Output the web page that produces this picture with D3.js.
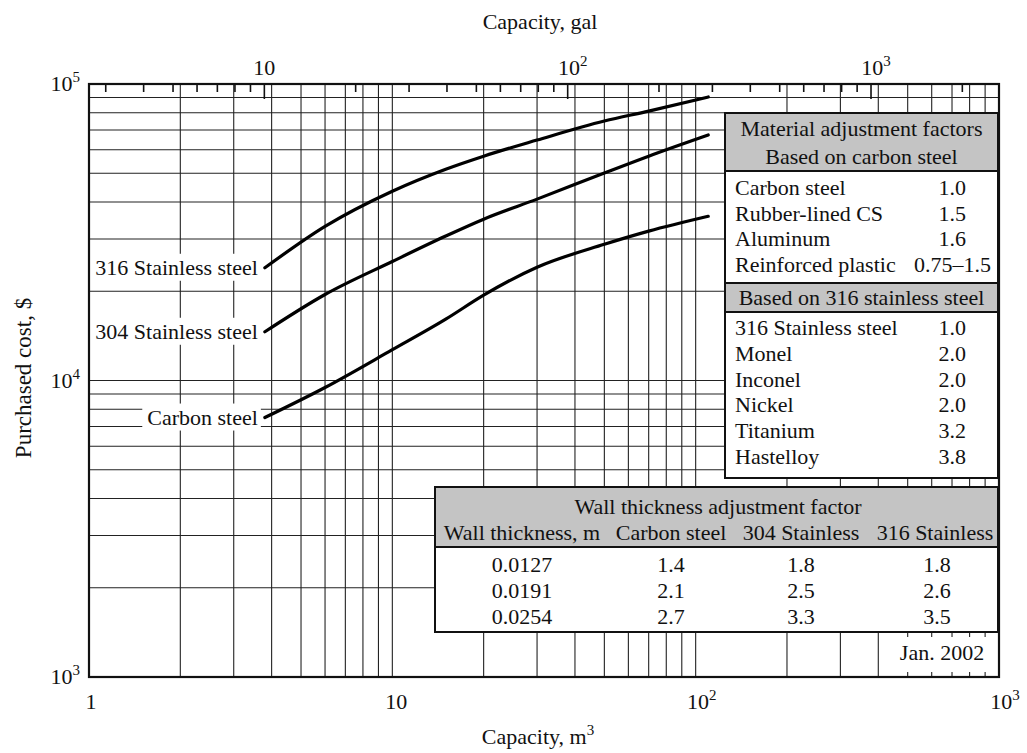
<!DOCTYPE html>
<html>
<head>
<meta charset="utf-8">
<script src="https://cdn.jsdelivr.net/npm/d3@7"></script>
<style>
  html, body { margin: 0; padding: 0; background: #fff; }
  svg text { font-family: "Liberation Serif", "Times New Roman", serif; fill: #111; }
</style>
</head>
<body>
<svg id="chart" width="1027" height="753"></svg>
<script>
// ---------------- data ----------------
const capacityM3 = [3.8, 6, 10, 15, 20, 30, 50, 70, 110];
const cost316 = [24000, 33100, 43500, 51600, 57100, 64700, 75000, 81000, 90400];
const cost304 = [14600, 19500, 25200, 30700, 35000, 40900, 50100, 57100, 67300];
const costCS  = [7500, 9470, 12700, 16100, 19400, 24100, 28800, 31900, 35800];
const seriesNames = ["316 Stainless steel", "304 Stainless steel", "Carbon steel"];

const xDecadeLabels = [{v: 1, base: "1", exp: ""}, {v: 10, base: "10", exp: ""}, {v: 100, base: "10", exp: "2"}, {v: 1000, base: "10", exp: "3"}];
const topDecadeLabels = [{v: 10, base: "10", exp: ""}, {v: 100, base: "10", exp: "2"}, {v: 1000, base: "10", exp: "3"}];
const yDecadeLabels = [{v: 1000, exp: "3"}, {v: 10000, exp: "4"}, {v: 100000, exp: "5"}];
const topUnitM3 = 0.3785; // one top-axis unit expressed in m3

const matHeader1 = ["Material adjustment factors", "Based on carbon steel"];
const matMaterials1 = ["Carbon steel", "Rubber-lined CS", "Aluminum", "Reinforced plastic"];
const matFactors1 = ["1.0", "1.5", "1.6", "0.75\u20131.5"];
const matHeader2 = "Based on 316 stainless steel";
const matMaterials2 = ["316 Stainless steel", "Monel", "Inconel", "Nickel", "Titanium", "Hastelloy"];
const matFactors2 = ["1.0", "2.0", "2.0", "2.0", "3.2", "3.8"];

const wallTitle = "Wall thickness adjustment factor";
const wallColumns = ["Wall thickness, m", "Carbon steel", "304 Stainless", "316 Stainless"];
const wallThickness = ["0.0127", "0.0191", "0.0254"];
const wallCS = ["1.4", "2.1", "2.7"];
const wall304 = ["1.8", "2.5", "3.3"];
const wall316 = ["1.8", "2.6", "3.5"];
const dateNote = "Jan. 2002";

// ---------------- layout ----------------
const L = 89, R = 999, T = 84, B = 677;
const FS = 22;
const svg = d3.select("#chart");

const x = d3.scaleLog().domain([1, 1000]).range([L, R]);
const y = d3.scaleLog().domain([1000, 100000]).range([B, T]);
const xTop = d3.scaleLog().domain([1 / topUnitM3, 1000 / topUnitM3]).range([L, R]);

// grid
const grid = svg.append("g").attr("stroke", "#222").attr("stroke-width", 1.1);
x.ticks().filter(v => v > 1 && v < 1000).forEach(v => {
  grid.append("line").attr("x1", x(v)).attr("x2", x(v)).attr("y1", T).attr("y2", B);
});
y.ticks().filter(v => v > 1000 && v < 100000).forEach(v => {
  grid.append("line").attr("x1", L).attr("x2", R).attr("y1", y(v)).attr("y2", y(v));
});

// top axis ticks (pointing into plot)
const topTicks = xTop.ticks().filter(v => xTop(v) > L + 2 && xTop(v) < R - 2);
svg.append("g").attr("stroke", "#111").attr("stroke-width", 1.6)
  .selectAll("line").data(topTicks).join("line")
  .attr("x1", d => xTop(d)).attr("x2", d => xTop(d))
  .attr("y1", T).attr("y2", d => T + (Math.abs(Math.log10(d) - Math.round(Math.log10(d))) < 1e-9 ? 15 : 8));

// curves
const line = d3.line().x(d => x(d[0])).y(d => y(d[1])).curve(d3.curveMonotoneX);
[cost316, cost304, costCS].forEach(vals => {
  svg.append("path").datum(capacityM3.map((c, i) => [c, vals[i]]))
    .attr("d", line).attr("fill", "none").attr("stroke", "#000").attr("stroke-width", 3.2)
    .attr("stroke-linecap", "round");
});

// curve labels with white boxes
const labelG = svg.append("g");
[cost316, cost304, costCS].forEach((vals, i) => {
  const lx = x(capacityM3[0]) - 7;
  const ly = y(vals[0]) + 7;
  const t = labelG.append("text").attr("x", lx).attr("y", ly).attr("text-anchor", "end")
    .attr("font-size", FS).text(seriesNames[i]);
  const bb = t.node().getBBox();
  labelG.insert("rect", "text").attr("x", bb.x - 5).attr("y", bb.y - 1).attr("width", bb.width + 8)
    .attr("height", bb.height + 2).attr("fill", "#fff");
});

// frame
svg.append("rect").attr("x", L).attr("y", T).attr("width", R - L).attr("height", B - T)
  .attr("fill", "none").attr("stroke", "#111").attr("stroke-width", 2.2);

// superscript labels
function supText(px, py, base, exp, anchor) {
  const t = svg.append("text").attr("x", px).attr("y", py).attr("text-anchor", anchor).attr("font-size", FS);
  t.append("tspan").text(base);
  if (exp) t.append("tspan").attr("dy", -9).attr("font-size", 15).text(exp);
  return t;
}
xDecadeLabels.forEach(d => supText(x(d.v) + (d.exp ? 6 : (d.v === 10 ? 4 : 2)), 709, d.base, d.exp, "middle"));
topDecadeLabels.forEach(d => supText(xTop(d.v) + (d.exp ? 5 : 0), 75, d.base, d.exp, "middle"));
yDecadeLabels.forEach(d => supText(80, y(d.v) + 7, "10", d.exp, "end"));

// axis titles
svg.append("text").attr("x", 540).attr("y", 29).attr("text-anchor", "middle").attr("font-size", FS).text("Capacity, gal");
const bt = svg.append("text").attr("x", 538).attr("y", 744).attr("text-anchor", "middle").attr("font-size", FS);
bt.append("tspan").text("Capacity, m");
bt.append("tspan").attr("dy", -9).attr("font-size", 15).text("3");
svg.append("text").attr("transform", "translate(31,378) rotate(-90)").attr("text-anchor", "middle")
  .attr("font-size", 23).text("Purchased cost, $");

// ---------------- material table ----------------
const shade = "#c4c4c4";
const mt = {x0: 725, x1: 998, y0: 113, h1: 171, h2: 283, h3: 312, y1: 478};
const mg = svg.append("g");
mg.append("rect").attr("x", mt.x0).attr("y", mt.y0).attr("width", mt.x1 - mt.x0).attr("height", mt.y1 - mt.y0).attr("fill", "#fff");
mg.append("rect").attr("x", mt.x0).attr("y", mt.y0).attr("width", mt.x1 - mt.x0).attr("height", mt.h1 - mt.y0).attr("fill", shade);
mg.append("rect").attr("x", mt.x0).attr("y", mt.h2).attr("width", mt.x1 - mt.x0).attr("height", mt.h3 - mt.h2).attr("fill", shade);
[mt.h1, mt.h2, mt.h3].forEach(yy => mg.append("line").attr("x1", mt.x0).attr("x2", mt.x1).attr("y1", yy).attr("y2", yy).attr("stroke", "#111").attr("stroke-width", 2));
mg.append("rect").attr("x", mt.x0).attr("y", mt.y0).attr("width", mt.x1 - mt.x0).attr("height", mt.y1 - mt.y0)
  .attr("fill", "none").attr("stroke", "#111").attr("stroke-width", 2);
const mcx = (mt.x0 + mt.x1) / 2;
matHeader1.forEach((s, i) => mg.append("text").attr("x", mcx).attr("y", 136 + i * 28).attr("text-anchor", "middle").attr("font-size", FS).text(s));
matMaterials1.forEach((s, i) => {
  mg.append("text").attr("x", 735).attr("y", 195 + i * 25.5).attr("font-size", FS).text(s);
  mg.append("text").attr("x", matFactors1[i].length > 3 ? 991 : 966).attr("y", 195 + i * 25.5).attr("text-anchor", "end").attr("font-size", FS).text(matFactors1[i]);
});
mg.append("text").attr("x", mcx).attr("y", 305).attr("text-anchor", "middle").attr("font-size", FS).text(matHeader2);
matMaterials2.forEach((s, i) => {
  mg.append("text").attr("x", 735).attr("y", 335 + i * 25.8).attr("font-size", FS).text(s);
  mg.append("text").attr("x", 966).attr("y", 335 + i * 25.8).attr("text-anchor", "end").attr("font-size", FS).text(matFactors2[i]);
});

// ---------------- wall thickness table ----------------
const wt = {x0: 435, x1: 998, y0: 487, h1: 547, y1: 632};
const wg = svg.append("g");
wg.append("rect").attr("x", wt.x0).attr("y", wt.y0).attr("width", wt.x1 - wt.x0).attr("height", wt.y1 - wt.y0).attr("fill", "#fff");
wg.append("rect").attr("x", wt.x0).attr("y", wt.y0).attr("width", wt.x1 - wt.x0).attr("height", wt.h1 - wt.y0).attr("fill", shade);
wg.append("line").attr("x1", wt.x0).attr("x2", wt.x1).attr("y1", wt.h1).attr("y2", wt.h1).attr("stroke", "#111").attr("stroke-width", 2);
wg.append("rect").attr("x", wt.x0).attr("y", wt.y0).attr("width", wt.x1 - wt.x0).attr("height", wt.y1 - wt.y0)
  .attr("fill", "none").attr("stroke", "#111").attr("stroke-width", 2);
wg.append("text").attr("x", 718).attr("y", 514).attr("text-anchor", "middle").attr("font-size", FS).text(wallTitle);
const colX = [522, 671, 801, 935];
wallColumns.forEach((s, i) => wg.append("text").attr("x", colX[i]).attr("y", 540).attr("text-anchor", "middle").attr("font-size", FS).text(s));
const wallCols = [wallThickness, wallCS, wall304, wall316];
wallCols.forEach((col, c) => col.forEach((s, r) => {
  wg.append("text").attr("x", colX[c] + (c === 3 ? 2 : 0)).attr("y", 572 + r * 26).attr("text-anchor", "middle").attr("font-size", FS).text(s);
}));

// date note box
svg.append("rect").attr("x", 885).attr("y", 637).attr("width", 112).attr("height", 35).attr("fill", "#fff");
svg.append("text").attr("x", 942).attr("y", 660).attr("text-anchor", "middle").attr("font-size", FS).text(dateNote);
</script>
</body>
</html>
